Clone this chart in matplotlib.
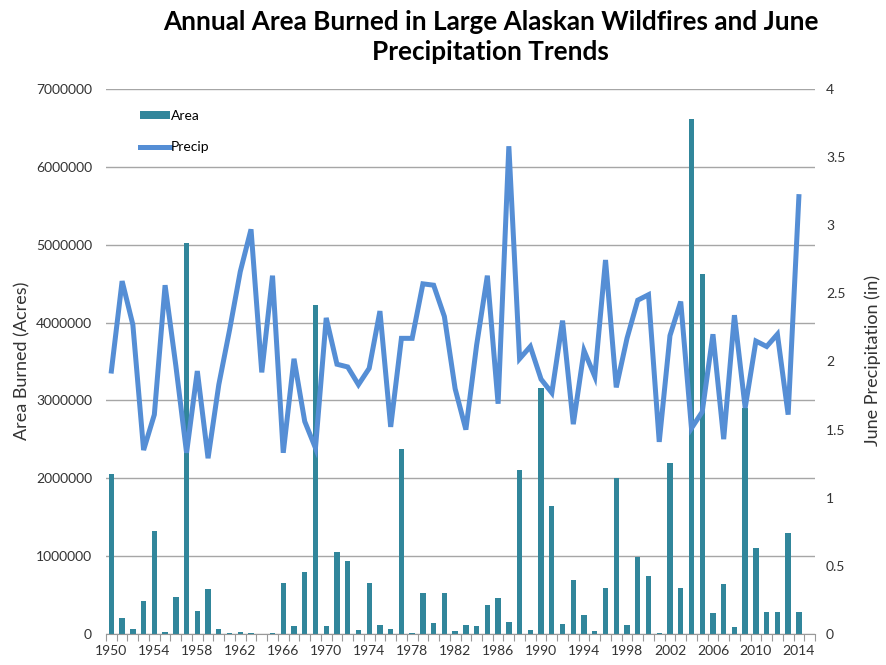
import numpy as np
import matplotlib
matplotlib.use("Agg")
import matplotlib.pyplot as plt
from matplotlib.patches import Patch
from matplotlib.lines import Line2D

plt.rcParams['font.family'] = ['Lato', 'DejaVu Sans']

# data
years = list(range(1950, 2015))
area = [2060000, 205000, 65000, 430000, 1320000, 20000, 470000, 5020000, 300000, 580000,
        70000, 8000, 25000, 8000, 0, 8000, 660000, 100000, 790000, 4220000,
        100000, 1050000, 940000, 47000, 650000, 120000, 65000, 2380000, 10000, 530000,
        140000, 530000, 40000, 120000, 100000, 370000, 460000, 155000, 2110000, 56000,
        3160000, 1650000, 130000, 690000, 250000, 43000, 590000, 2000000, 110000, 990000,
        750000, 10000, 2200000, 595000, 6620000, 4630000, 270000, 645000, 90000, 2900000,
        1110000, 286000, 286000, 1300000, 286000]
precip = [1.93, 2.59, 2.27, 1.35, 1.61, 2.56, 1.97, 1.33, 1.93, 1.29,
          1.83, 2.23, 2.66, 2.97, 1.92, 2.63, 1.33, 2.02, 1.56, 1.365,
          2.32, 1.98, 1.96, 1.83, 1.95, 2.37, 1.52, 2.17, 2.17, 2.57,
          2.56, 2.33, 1.80, 1.50, 2.12, 2.63, 1.69, 3.58, 2.02, 2.11,
          1.87, 1.77, 2.30, 1.54, 2.08, 1.89, 2.745, 1.81, 2.17, 2.45,
          2.49, 1.41, 2.19, 2.44, 1.51, 1.63, 2.20, 1.43, 2.34, 1.66,
          2.15, 2.11, 2.20, 1.61, 3.21]
n_slots = 66  # 1950-2015 category slots, last one empty

bar_color = '#31869b'
line_color = '#558ed5'
text_color = '#333333'

fig = plt.figure(figsize=(8.86, 6.65), dpi=100)
ax = fig.add_axes([106 / 886, 31 / 665, 709 / 886, 545 / 665])
ax2 = ax.twinx()

x = np.arange(len(years))
ax.bar(x, area, width=0.5, color=bar_color, zorder=2)
ax2.plot(x, precip, color=line_color, lw=3.6, solid_joinstyle='miter', zorder=3)

ax.set_xlim(-0.5, n_slots - 0.5)
ax.set_ylim(0, 7000000)
ax2.set_ylim(0, 4)
ax.set_yticks(np.arange(0, 7000001, 1000000))
ax.set_yticklabels([str(v) for v in range(0, 7000001, 1000000)])
ax2.set_yticks(np.arange(0, 4.01, 0.5))
ax2.set_yticklabels(['0', '0.5', '1', '1.5', '2', '2.5', '3', '3.5', '4'])

ax.set_xticks(x[::4])
ax.set_xticklabels([str(y) for y in years[::4]])
ax.set_xticks(np.arange(-0.5, n_slots, 1), minor=True)
ax.tick_params(axis='x', which='major', length=0, pad=8, labelsize=10, labelcolor=text_color)
ax.tick_params(axis='x', which='minor', length=5, color='#999999', width=0.8)
ax.tick_params(axis='y', length=0, pad=10, labelsize=10, labelcolor=text_color)
ax2.tick_params(axis='y', length=0, pad=8, labelsize=10, labelcolor=text_color)

ax.grid(axis='y', color='#a6a6a6', lw=1, zorder=0)
ax.set_axisbelow(True)
for a in (ax, ax2):
    for s in ('top', 'left', 'right'):
        a.spines[s].set_visible(False)
    a.spines['bottom'].set_color('#999999')
ax2.spines['bottom'].set_visible(False)

fig.text(22 / 886, 1 - 361 / 665, 'Area Burned (Acres)', rotation=90, ha='center', va='center',
         fontsize=13, color=text_color)
fig.text(873 / 886, 1 - 361 / 665, 'June Precipitation (in)', rotation=90, ha='center',
         va='center', fontsize=13, color=text_color)

handles = [Patch(facecolor=bar_color, label='Area'),
           Line2D([0], [0], color=line_color, lw=3.6, label='Precip')]
ax2.legend(handles=handles, loc='upper left', bbox_to_anchor=(0.038, 0.975),
           frameon=False, fontsize=10, handlelength=2.2, handleheight=0.5,
           handletextpad=0.05, labelspacing=1.4, borderpad=0)

fig.text(0.554, 0.985, 'Annual Area Burned in Large Alaskan Wildfires and June\nPrecipitation Trends',
         ha='center', va='top', fontsize=18.8, fontweight='bold', linespacing=1.3)

fig.savefig('out.png', dpi=100)
